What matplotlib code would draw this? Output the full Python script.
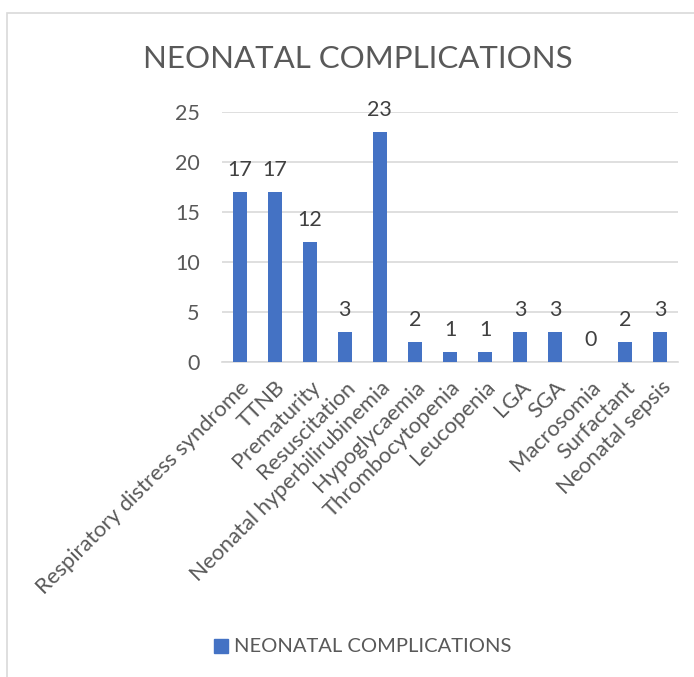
import matplotlib
matplotlib.use("Agg")
import matplotlib.pyplot as plt
from matplotlib.patches import Rectangle

categories = ["Respiratory distress syndrome", "TTNB", "Prematurity", "Resuscitation",
              "Neonatal hyperbilirubinemia", "Hypoglycaemia", "Thrombocytopenia",
              "Leucopenia", "LGA", "SGA", "Macrosomia", "Surfactant", "Neonatal sepsis"]
counts = [17, 17, 12, 3, 23, 2, 1, 1, 3, 3, 0, 2, 3]
series_name = "NEONATAL COMPLICATIONS"
yticks = [0, 5, 10, 15, 20, 25]

plt.rcParams["font.family"] = ["Lato", "DejaVu Sans"]
text_col = "#595959"
bar_col = "#4472C4"

W, H = 694, 677
fig = plt.figure(figsize=(W / 100, H / 100), dpi=100)

# chart frame
fig.patches.append(Rectangle((7 / W, -0.01), 1.0, (H - 13) / H + 0.01,
                             transform=fig.transFigure, fill=False,
                             edgecolor="#D9D9D9", linewidth=1.2))

ax = fig.add_axes([222 / W, 1 - 362 / H, (678 - 222) / W, 250 / H])
x = range(len(categories))
bars = ax.bar(x, counts, width=0.4, color=bar_col, zorder=3)
ax.set_xlim(-0.5, len(categories) - 0.5)
ax.set_ylim(0, 25)
ax.set_yticks(yticks)
ax.yaxis.grid(True, color="#D9D9D9", linewidth=1.2, zorder=0)
for s in ["top", "right", "left"]:
    ax.spines[s].set_visible(False)
ax.spines["bottom"].set_color("#D9D9D9")
ax.spines["bottom"].set_linewidth(1.2)
ax.tick_params(axis="both", length=0, colors=text_col, labelsize=15.5)
ax.tick_params(axis="y", pad=16)
ax.set_xticks(list(x))
ax.set_xticklabels(categories, rotation=45, ha="right", rotation_mode="anchor",
                   fontsize=15.8, color=text_col)
ax.tick_params(axis="x", pad=11)

for xi, v in zip(x, counts):
    ax.annotate(str(v), (xi, v), xytext=(0, 9), textcoords="offset points",
                ha="center", va="bottom", fontsize=15.5, color="#404040")

fig.text(358 / W, 1 - 59 / H, series_name, ha="center", va="center",
         fontsize=22.5, color=text_col)

# legend
fig.patches.append(Rectangle((214 / W, 1 - 653 / H), 14 / W, 14 / H,
                             transform=fig.transFigure, color=bar_col))
fig.text(234 / W, 1 - 646 / H, series_name, ha="left", va="center",
         fontsize=14.5, color=text_col)

fig.savefig("out.png", dpi=100)
